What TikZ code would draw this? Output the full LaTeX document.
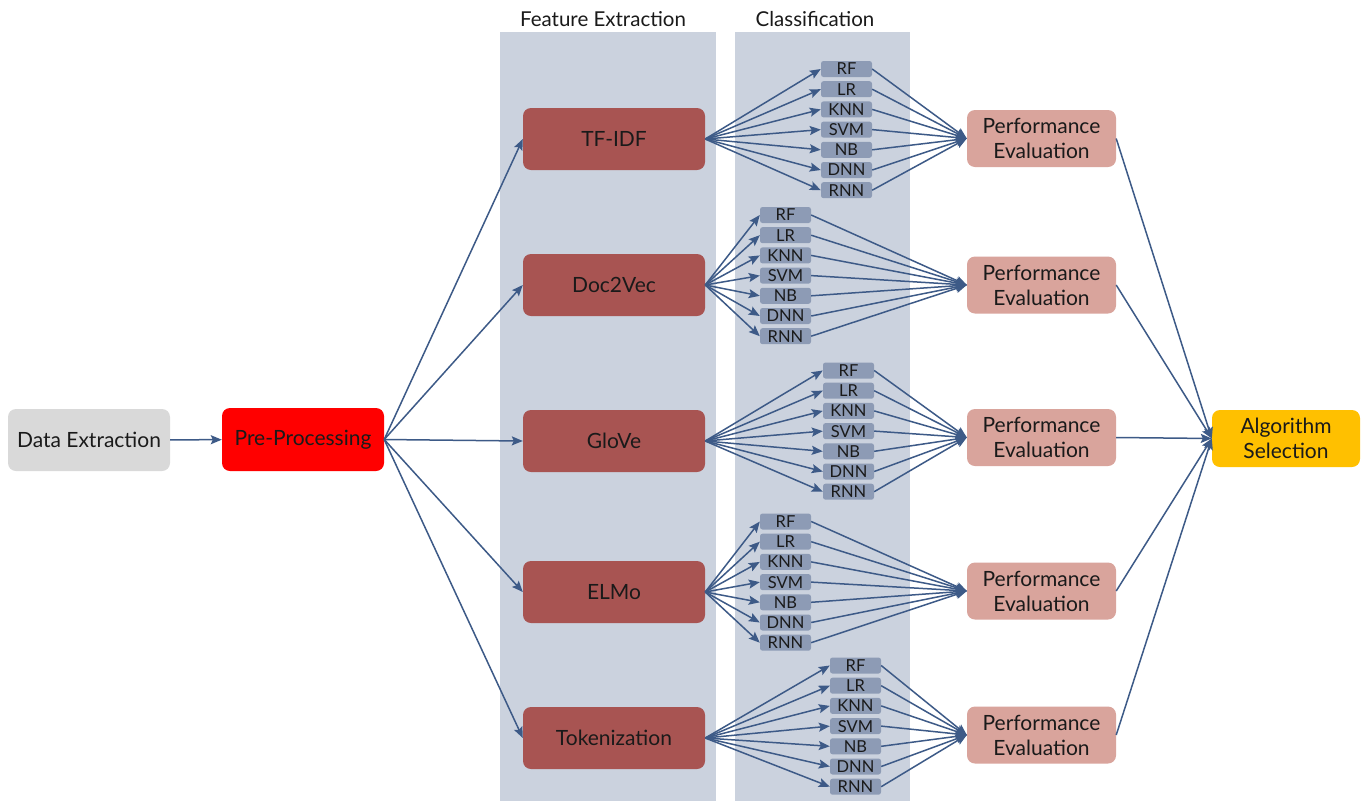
\documentclass[tikz,border=0pt]{standalone}
\usepackage{fontspec}
\setmainfont{Lato}
\usetikzlibrary{arrows.meta}
\definecolor{panel}{HTML}{CBD2DE}
\definecolor{feat}{HTML}{A85452}
\definecolor{cls}{HTML}{8D9BB5}
\definecolor{perf}{HTML}{D9A49C}
\definecolor{algo}{HTML}{FFC000}
\definecolor{dataex}{HTML}{D9D9D9}
\definecolor{link}{HTML}{3D5A87}
\definecolor{ink}{HTML}{1A1A1A}
\tikzset{
  bigbox/.style={rounded corners=8pt, minimum height=62pt, inner sep=0pt, align=center,
    text=ink, font=\fontsize{21}{25}\selectfont},
  featbox/.style={bigbox, fill=feat, minimum width=182pt},
  perfbox/.style={bigbox, fill=perf, minimum width=149pt, minimum height=57pt},
  clsbox/.style={rounded corners=2.5pt, fill=cls, minimum width=51pt, minimum height=16pt,
    inner sep=0pt, text=ink, font=\fontsize{16.5}{16}\selectfont},
  link/.style={draw=link, line width=1.5pt, -{Stealth[length=11pt,width=9pt,inset=2pt]}},
  header/.style={text=ink, font=\fontsize{20.5}{22}\selectfont}
}
\begin{document}
\begin{tikzpicture}[x=1pt,y=-1pt]
\useasboundingbox (0,0) rectangle (1366,801);
\fill[white] (0,0) rectangle (1366,801);
% stage panels
\fill[panel] (500,32) rectangle (716,801);
\fill[panel] (735,32) rectangle (910,801);
\node[header] (hfe) at (603,19) {Feature Extraction};
\node[header] (hcl) at (815,19) {Classification};
% input stages
\node[bigbox, fill=dataex, minimum width=162pt] (data) at (89,440) {Data Extraction};
\node[bigbox, fill=red, minimum width=162pt, minimum height=63pt] (pre) at (303,439.5) {Pre-Processing};
\node[bigbox, fill=algo, minimum width=148pt, minimum height=57pt] (alg) at (1286,438.5) {Algorithm\\Selection};
\draw[link] (data) -- (pre);
% feature extractors, classifiers and evaluation
\foreach \i/\name/\fy/\cx/\cy/\py in {
  1/TF-IDF/139/846.5/69/138.5,
  2/Doc2Vec/285/785.5/215/285,
  3/GloVe/441/848.5/370.5/437.5,
  4/ELMo/592/785.5/521.5/591,
  5/Tokenization/738/855.5/665.5/735}{
  \node[featbox] (f\i) at (614,\fy) {\name};
  \node[perfbox] (p\i) at (1041.5,\py) {Performance\\Evaluation};
  \draw[link] (pre.east) -- (f\i.west);
  \draw[link] (p\i.east) -- (alg.west);
  \foreach \c [count=\k from 0] in {RF,LR,KNN,SVM,NB,DNN,RNN}{
    \node[clsbox] (c\i\c) at (\cx,\cy+20.2*\k) {\c};
    \draw[link] (f\i.east) -- (c\i\c.west);
    \draw[link] (c\i\c.east) -- (p\i.west);
  }
}
\end{tikzpicture}
\end{document}
